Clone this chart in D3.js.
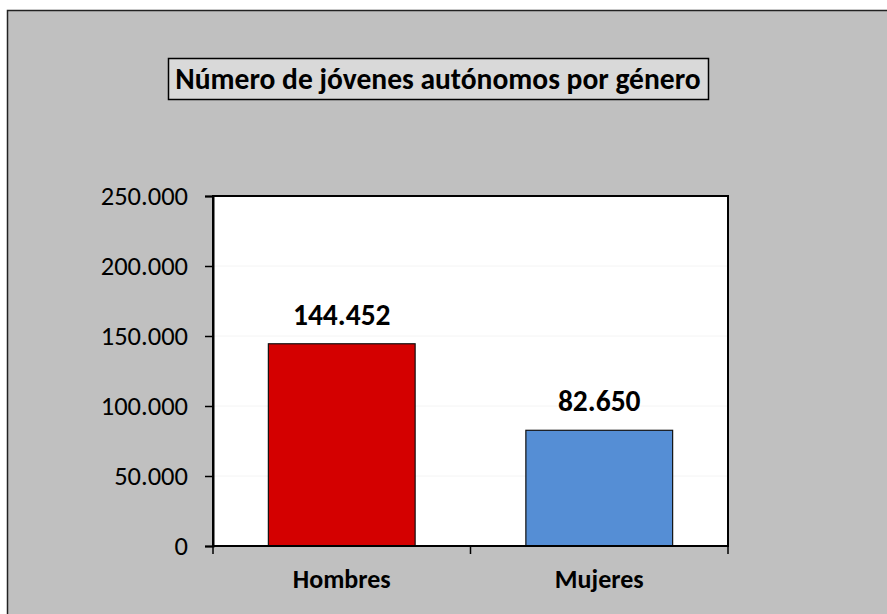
<!DOCTYPE html>
<html>
<head>
<meta charset="utf-8">
<script src="https://cdn.jsdelivr.net/npm/d3@7"></script>
<style>
  body { margin: 0; background: #fff; }
  svg { display: block; }
  svg text { font-family: Carlito, "Open Sans", "Noto Sans", sans-serif; }
</style>
</head>
<body>
<script>
// chart data
var categories = ["Hombres", "Mujeres"];
var values = [144452, 82650];
var barColors = ["#d40000", "#558ed5"];
var yTicks = [0, 50000, 100000, 150000, 200000, 250000];
var title = "Número de jóvenes autónomos por género";

var totalWidth = 887,
    totalHeight = 614;

var margin = {"left": 213, "right": 159, "top": 196, "bottom": 68};
var graphWidth = totalWidth - margin.left - margin.right;
var graphHeight = totalHeight - margin.top - margin.bottom;

// spanish number format: dot as thousands separator
var fmt = d3.formatLocale({decimal: ",", thousands: ".", grouping: [3], currency: ["", "€"]}).format(",d");

var svg = d3.select("body").append("svg")
    .attr("width", totalWidth)
    .attr("height", totalHeight);

// gray chart background with left/top border
svg.append("rect")
    .attr("x", 7.5).attr("y", 10.5)
    .attr("width", totalWidth + 10).attr("height", totalHeight + 10)
    .attr("fill", "#c0c0c0")
    .attr("stroke", "#222")
    .attr("stroke-width", 1.5);

// title box
var titleG = svg.append("g");
titleG.append("rect")
    .attr("x", 168.5).attr("y", 58.5)
    .attr("width", 540).attr("height", 41)
    .attr("fill", "#d9d9d9")
    .attr("stroke", "#000")
    .attr("stroke-width", 1.5);
titleG.append("text")
    .attr("x", 438)
    .attr("y", 89)
    .attr("text-anchor", "middle")
    .style("font-size", "29.5px")
    .style("font-weight", "bold")
    .text(title);

var g = svg.append("g")
    .attr("transform", "translate(" + margin.left + "," + margin.top + ")");

var x = d3.scaleBand()
    .domain(categories)
    .range([0, graphWidth])
    .paddingInner(0.43)
    .paddingOuter(0.215);

var y = d3.scaleLinear()
    .domain([0, 250000])
    .range([graphHeight, 0]);

// plot area
g.append("rect")
    .attr("width", graphWidth)
    .attr("height", graphHeight)
    .attr("fill", "#fff");

// faint gridlines
g.selectAll(".grid")
    .data(yTicks.slice(1, -1))
    .enter().append("line")
    .attr("x1", 0).attr("x2", graphWidth)
    .attr("y1", function(d) { return y(d); })
    .attr("y2", function(d) { return y(d); })
    .attr("stroke", "#f4f4f4");

// bars
g.selectAll(".bar")
    .data(values)
    .enter().append("rect")
    .attr("x", function(d, i) { return x(categories[i]); })
    .attr("y", function(d) { return y(d); })
    .attr("width", x.bandwidth())
    .attr("height", function(d) { return graphHeight - y(d); })
    .attr("fill", function(d, i) { return barColors[i]; })
    .attr("stroke", "#111")
    .attr("stroke-width", 1.2);

// value labels
g.selectAll(".label")
    .data(values)
    .enter().append("text")
    .attr("x", function(d, i) { return x(categories[i]) + x.bandwidth() / 2; })
    .attr("y", function(d) { return y(d) - 19; })
    .attr("text-anchor", "middle")
    .style("font-size", "29.5px")
    .style("font-weight", "bold")
    .text(function(d) { return fmt(d); });

// plot border
g.append("rect")
    .attr("width", graphWidth)
    .attr("height", graphHeight)
    .attr("fill", "none")
    .attr("stroke", "#000")
    .attr("stroke-width", 2);

// y axis
var yAxis = g.append("g")
    .call(d3.axisLeft(y).tickValues(yTicks).tickSize(8).tickPadding(17).tickFormat(fmt));
yAxis.attr("font-family", null);
yAxis.select(".domain").attr("stroke-width", 2);
yAxis.selectAll(".tick line").attr("stroke-width", 1.5);
yAxis.selectAll("text").style("font-size", "26.5px").attr("fill", "#000");

// x axis: ticks at band boundaries
var xAxis = g.append("g")
    .attr("transform", "translate(0," + graphHeight + ")");
xAxis.append("line")
    .attr("x1", 0).attr("x2", graphWidth)
    .attr("stroke", "#000").attr("stroke-width", 2);
xAxis.selectAll(".xtick")
    .data([0, graphWidth / 2, graphWidth])
    .enter().append("line")
    .attr("x1", function(d) { return d; })
    .attr("x2", function(d) { return d; })
    .attr("y1", 0).attr("y2", 8)
    .attr("stroke", "#000").attr("stroke-width", 1.5);
xAxis.selectAll(".xlabel")
    .data(categories)
    .enter().append("text")
    .attr("x", function(d) { return x(d) + x.bandwidth() / 2; })
    .attr("y", 42)
    .attr("text-anchor", "middle")
    .style("font-size", "26px")
    .style("font-weight", "bold")
    .text(function(d) { return d; });
</script>
</body>
</html>
